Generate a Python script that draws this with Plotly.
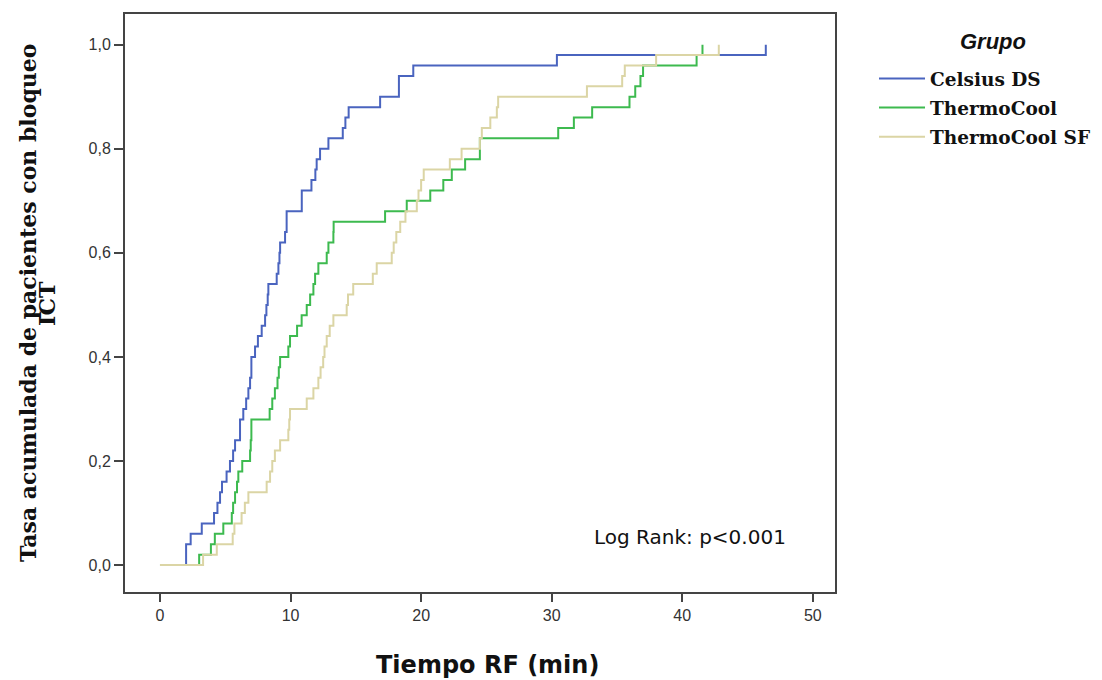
import plotly.graph_objects as go

#Cumulative incidence of ICT block (step data)
celsius_t = [0, 2.0, 2.35, 3.2, 4.14, 4.4, 4.6, 4.75, 5.1, 5.36, 5.6, 5.75, 6.13, 6.38, 6.6, 6.77,
             6.9, 7.0, 7.28, 7.5, 7.79, 8.05, 8.15, 8.25, 8.3, 8.94, 9.07, 9.15, 9.2, 9.58, 9.7,
             10.86, 11.3, 11.6, 11.9, 12.0, 12.26, 12.9, 14.0, 14.2, 14.45, 16.86, 18.3, 19.4, 30.4, 46.4]
celsius_y = [0, 0.04, 0.06, 0.08, 0.10, 0.12, 0.14, 0.16, 0.18, 0.20, 0.22, 0.24, 0.28, 0.30, 0.32, 0.34,
             0.36, 0.40, 0.42, 0.44, 0.46, 0.48, 0.50, 0.52, 0.54, 0.56, 0.58, 0.60, 0.62, 0.64, 0.68,
             0.72, 0.72, 0.74, 0.76, 0.78, 0.80, 0.82, 0.84, 0.86, 0.88, 0.90, 0.94, 0.96, 0.98, 1.0]

thermo_t = [0, 3.0, 3.9, 4.2, 4.85, 5.5, 5.6, 5.75, 5.9, 6.0, 6.3, 6.9, 6.95, 7.0, 8.4, 8.6, 8.8, 9.0,
            9.1, 9.2, 9.83, 9.96, 10.5, 10.85, 11.24, 11.5, 11.75, 11.88, 12.13, 12.77, 12.9, 13.28, 13.3,
            17.24, 18.9, 20.7, 21.7, 22.35, 23.37, 24.5, 30.5, 31.7, 33.1, 35.96, 36.4, 36.8, 37.0, 41.1, 41.55]
thermo_y = [0, 0.02, 0.04, 0.06, 0.08, 0.10, 0.12, 0.14, 0.16, 0.18, 0.20, 0.22, 0.24, 0.28, 0.30, 0.32, 0.34, 0.36,
            0.38, 0.40, 0.42, 0.44, 0.46, 0.48, 0.50, 0.52, 0.54, 0.56, 0.58, 0.60, 0.62, 0.64, 0.66,
            0.68, 0.70, 0.72, 0.74, 0.76, 0.78, 0.82, 0.84, 0.86, 0.88, 0.90, 0.92, 0.94, 0.96, 0.98, 1.0]

thermo_sf_t = [0, 3.3, 4.35, 5.57, 5.7, 6.25, 6.5, 6.77, 8.17, 8.43, 8.6, 8.8, 9.2, 9.83, 9.9, 9.96,
               11.24, 11.75, 12.13, 12.3, 12.5, 12.6, 12.77, 13.0, 13.28, 14.3, 14.4, 14.8, 16.3, 16.6,
               17.75, 17.9, 18.1, 18.4, 18.8, 19.67, 19.8, 20.0, 20.2, 22.2, 23.1, 24.5, 24.65, 25.3,
               25.8, 25.9, 32.7, 35.4, 35.6, 38.0, 42.8]
thermo_sf_y = [0, 0.02, 0.04, 0.06, 0.08, 0.10, 0.12, 0.14, 0.16, 0.18, 0.20, 0.22, 0.24, 0.26, 0.28, 0.30,
               0.32, 0.34, 0.36, 0.38, 0.40, 0.42, 0.44, 0.46, 0.48, 0.50, 0.52, 0.54, 0.56, 0.58,
               0.60, 0.62, 0.64, 0.66, 0.68, 0.70, 0.72, 0.74, 0.76, 0.78, 0.80, 0.82, 0.84, 0.86,
               0.88, 0.90, 0.92, 0.94, 0.96, 0.98, 1.0]

group_names = ["Celsius DS", "ThermoCool", "ThermoCool SF"]
group_colors = ["#4a64bf", "#3dba4f", "#dbd5a5"]

x_ticks = [0, 10, 20, 30, 40, 50]
y_ticks = [0.0, 0.2, 0.4, 0.6, 0.8, 1.0]

serif = "DejaVu Serif, serif"
sans = "Liberation Sans, Arial, sans-serif"

fig = go.Figure()
for name, color, t, y in zip(group_names, group_colors,
                             [celsius_t, thermo_t, thermo_sf_t],
                             [celsius_y, thermo_y, thermo_sf_y]):
    fig.add_trace(go.Scatter(x=t, y=y, name=f"<b>{name}</b>", legendgroup=name, mode="lines",
                             line=dict(color=color, width=2, shape="hv")))

fig.add_annotation(x=40.6, y=0.054, xref="x", yref="y", text="Log Rank: p<0.001",
                   showarrow=False, font=dict(family="DejaVu Sans, sans-serif", size=20, color="#111"))

#legend title as separate annotation (so the item spacing can be matched)
fig.add_annotation(x=1.2225, y=0.952, xref="paper", yref="paper", text="<b><i>Grupo</i></b>",
                   xanchor="center", yanchor="middle", showarrow=False,
                   font=dict(family=sans, size=22, color="#111"))

#y-axis title: two lines drawn closer together than a <br> would give
fig.add_annotation(x=-0.1366, y=0.5, xref="paper", yref="paper", textangle=-90,
                   xanchor="center", yanchor="middle",
                   text="<b>Tasa acumulada de pacientes con bloqueo</b>", showarrow=False,
                   font=dict(family=serif, size=22, color="#111"))
fig.add_annotation(x=-0.11, y=0.5, xref="paper", yref="paper", textangle=-90,
                   xanchor="center", yanchor="middle",
                   text="<b>ICT</b>", showarrow=False,
                   font=dict(family=serif, size=22, color="#111"))

#x-axis title
fig.add_annotation(x=0.51, y=-0.126, xref="paper", yref="paper",
                   xanchor="center", yanchor="middle",
                   text="<b>Tiempo RF (min)</b>", showarrow=False,
                   font=dict(family="DejaVu Sans, sans-serif", size=24, color="#111"))

fig.update_layout(
    width=1094, height=672,
    margin=dict(l=117, r=267, t=4, b=88),
    plot_bgcolor="white", paper_bgcolor="white",
    separators=",.",
    showlegend=True,
    legend=dict(
        xref="container", yref="container",
        x=0.7916, y=0.9226, xanchor="left", yanchor="top",
        font=dict(family=serif, size=18.5, color="#111"),
        tracegroupgap=2, itemwidth=46,
    ),
    xaxis=dict(
        range=[-2.68, 51.7], tickvals=x_ticks, ticks="outside", ticklen=8, tickwidth=2,
        tickcolor="#444", showline=True, linecolor="#444", linewidth=2, mirror=True,
        showgrid=False, zeroline=False,
        tickfont=dict(family=sans, size=16, color="#333"),
    ),
    yaxis=dict(
        range=[-0.0517, 1.059], tickvals=y_ticks, tickformat=".1f", ticks="outside", ticklen=9,
        tickwidth=2, tickcolor="#444", showline=True, linecolor="#444", linewidth=2, mirror=True,
        showgrid=False, zeroline=False,
        tickfont=dict(family=sans, size=16, color="#333"),
    ),
)

fig.write_html("out.html")
